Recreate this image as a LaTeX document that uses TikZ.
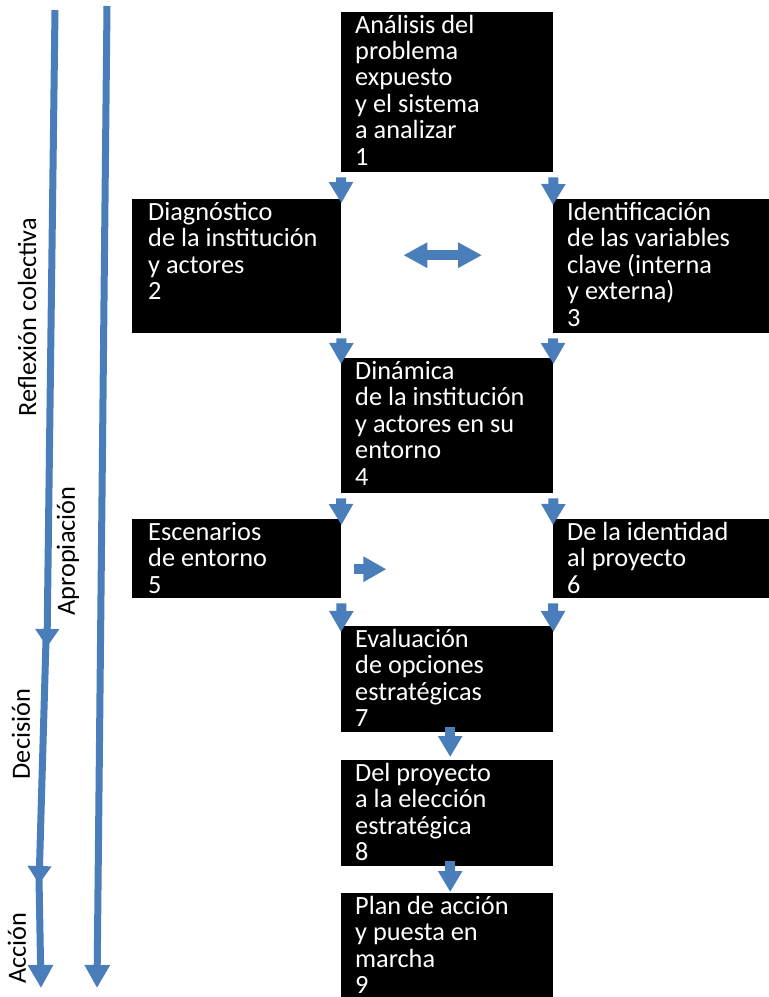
\documentclass[tikz,border=0pt]{standalone}
\usepackage{fontspec}
\setmainfont{Carlito}
\usetikzlibrary{arrows.meta}
\definecolor{blk}{RGB}{74,126,187}
\begin{document}
\begin{tikzpicture}[x=1pt,y=-1pt,
  box/.style={fill=black,draw=none,inner sep=0,anchor=north west},
  txt/.style={anchor=base west,inner sep=0,text=white,font=\fontsize{26.3}{26.4}\selectfont},
  lbl/.style={rotate=90,inner sep=0,font=\fontsize{26.3}{26.4}\selectfont},
  darrow/.style={draw=blk,line width=10pt,-{Triangle[width=23pt,length=21pt]}},
  harrow/.style={draw=blk,line width=10pt,-{Triangle[width=24pt,length=23pt]}},
  dbl/.style={draw=blk,line width=10pt,{Triangle[width=24pt,length=24pt]}-{Triangle[width=24pt,length=24pt]}},
  longarr/.style={draw=blk,line width=7pt,-{Triangle[width=23pt,length=18pt]}},
  longarrb/.style={draw=blk,line width=7pt,-{Triangle[width=24pt,length=23pt]}}]
\useasboundingbox (0,0) rectangle (769,997);
\fill[white] (0,0) rectangle (769,997);

% boxes
\node[box,minimum width=212pt,minimum height=160pt] (b1) at (341,12) {};
\node[box,minimum width=209pt,minimum height=134pt] (b2) at (132,199) {};
\node[box,minimum width=216pt,minimum height=134pt] (b3) at (553,199) {};
\node[box,minimum width=212pt,minimum height=135pt] (b4) at (341,358) {};
\node[box,minimum width=209pt,minimum height=79pt] (b5) at (132,519) {};
\node[box,minimum width=216pt,minimum height=79pt] (b6) at (553,519) {};
\node[box,minimum width=212pt,minimum height=106pt] (b7) at (341,626) {};
\node[box,minimum width=212pt,minimum height=106pt] (b8) at (341,760) {};
\node[box,minimum width=212pt,minimum height=104pt] (b9) at (341,893) {};

% texts
\node[txt] (t1) at ([xshift=14pt,yshift=-21pt]b1.north west) {\parbox[t]{200pt}{\raggedright Análisis del\\problema\\expuesto\\y el sistema\\a analizar\\1}};
\node[txt] (t2) at ([xshift=16pt,yshift=-21.5pt]b2.north west) {\parbox[t]{200pt}{\raggedright Diagnóstico\\de la institución\\y actores\\2}};
\node[txt] (t3) at ([xshift=14pt,yshift=-21.5pt]b3.north west) {\parbox[t]{200pt}{\raggedright Identificación\\de las variables\\clave (interna\\y externa)\\3}};
\node[txt] (t4) at ([xshift=14pt,yshift=-21.5pt]b4.north west) {\parbox[t]{200pt}{\raggedright Dinámica\\de la institución\\y actores en su\\entorno\\4}};
\node[txt] (t5) at ([xshift=16pt,yshift=-21.5pt]b5.north west) {\parbox[t]{200pt}{\raggedright Escenarios\\de entorno\\5}};
\node[txt] (t6) at ([xshift=14pt,yshift=-21.5pt]b6.north west) {\parbox[t]{200pt}{\raggedright De la identidad\\al proyecto\\6}};
\node[txt] (t7) at ([xshift=14pt,yshift=-21.5pt]b7.north west) {\parbox[t]{200pt}{\raggedright Evaluación\\de opciones\\estratégicas\\7}};
\node[txt] (t8) at ([xshift=14pt,yshift=-21.5pt]b8.north west) {\parbox[t]{200pt}{\raggedright Del proyecto\\a la elección\\estratégica\\8}};
\node[txt] (t9) at ([xshift=14pt,yshift=-21.5pt]b9.north west) {\parbox[t]{200pt}{\raggedright Plan de acción\\y puesta en\\marcha\\9}};

% vertical block arrows between boxes
\draw[darrow] ([yshift=-5pt]b1.south west) -- ([yshift=-4pt]b2.north east);
\draw[darrow] ([yshift=-5pt]b1.south east) -- ([yshift=-6pt]b3.north west);
\draw[darrow] ([yshift=-5pt]b2.south east) -- ([yshift=-6pt]b4.north west);
\draw[darrow] ([yshift=-5pt]b3.south west) -- ([yshift=-6pt]b4.north east);
\draw[darrow] ([yshift=-5pt]b4.south west) -- ([yshift=-6pt]b5.north east);
\draw[darrow] ([yshift=-5pt]b4.south east) -- ([yshift=-6pt]b6.north west);
\draw[darrow] ([yshift=-5pt]b5.south east) -- ([yshift=-6pt]b7.north west);
\draw[darrow] ([yshift=-5pt]b6.south west) -- ([yshift=-6pt]b7.north east);
\draw[darrow] ([xshift=3pt,yshift=5pt]b7.south) -- ([xshift=3pt,yshift=3pt]b8.north);
\draw[darrow] ([xshift=3pt,yshift=5pt]b8.south) -- ([xshift=3pt,yshift=1pt]b9.north);

% horizontal block arrows
\draw[dbl] ([xshift=62pt,yshift=11pt]b2.east) -- ([xshift=-71pt,yshift=11pt]b3.west);
\draw[harrow] ([xshift=13pt,yshift=-10.5pt]b5.east) -- ([xshift=45pt,yshift=-10.5pt]b5.east);

% left process arrows
\coordinate (p0) at (55,10);
\coordinate (p1) at (47,647);
\coordinate (p1s) at (46,640);
\coordinate (p2) at (39,884);
\coordinate (p2s) at (39,878);
\coordinate (p3) at (41,988);
\coordinate (q0) at (107,6);
\coordinate (q1) at (97,988);
\draw[longarr] (p0) -- (p1);
\draw[longarr] (p1s) -- (p2);
\draw[longarrb] (p2s) -- (p3);
\draw[longarrb] (q0) -- (q1);

% labels
\node[lbl] (l1) at (27,317) {Reflexión colectiva};
\node[lbl] (l2) at (68,551) {Apropiación};
\node[lbl] (l3) at (21,734) {Decisión};
\node[lbl] (l4) at (17,948) {Acción};
\end{tikzpicture}
\end{document}
